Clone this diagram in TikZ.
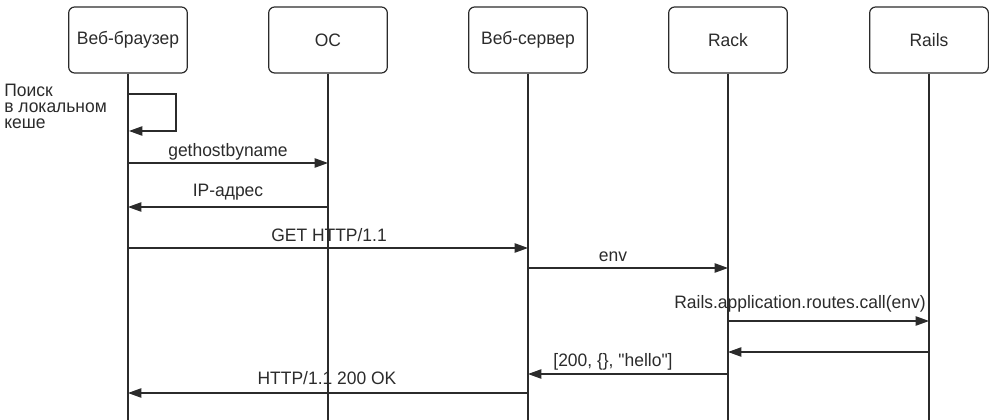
\documentclass[tikz,border=0pt]{standalone}
\usepackage{fontspec}
\setmainfont{Liberation Sans}[FakeStretch=0.97, Ligatures=TeXOff]
\usetikzlibrary{arrows.meta}
\definecolor{ink}{HTML}{2B2B2B}
\tikzset{
  actor/.style={draw=ink, rounded corners=4.5pt, minimum width=89pt, minimum height=49.5pt,
    line width=0.9pt, text=ink, font=\fontsize{13.5}{15}\selectfont},
  life/.style={draw=ink, line width=0.9pt},
  msg/.style={draw=ink, line width=0.9pt, -{Triangle[length=10pt,width=7pt]}},
  lbl/.style={anchor=base, inner sep=0pt, text=ink, font=\fontsize{13.5}{15}\selectfont}
}
\begin{document}
\begin{tikzpicture}[x=0.75pt,y=-0.75pt]
\useasboundingbox (0,0) rectangle (991,420);
\node[actor] (brw) at (128,40) {Веб-браузер};
\node[actor] (os)  at (328,40) {ОС};
\node[actor] (srv) at (528,40) {Веб-сервер};
\node[actor] (rck) at (728,40) {Rack};
\node[actor] (rls) at (929,40) {Rails};
\coordinate (bot) at (0,420);
\foreach \n in {brw,os,srv,rck,rls}
  \draw[life] (\n.south) -- (\n.south |- bot);
\coordinate (m0) at (0,94);
\coordinate (m1) at (0,163);
\coordinate (m2) at (0,207);
\coordinate (m3) at (0,248);
\coordinate (m4) at (0,268);
\coordinate (m5) at (0,321);
\coordinate (m6) at (0,352);
\coordinate (m7) at (0,374);
\coordinate (m8) at (0,393);
\node[lbl, anchor=north west, align=left, font=\fontsize{13.5}{12}\selectfont] (note) at (4,84) {Поиск\\в локальном\\кеше};
\draw[msg] (brw |- m0) -- ++(48,0) -- ++(0,37) -- ++(-47,0);
\draw[msg] (brw |- m1) -- (os |- m1);
\node[lbl] (l1) at (228,157) {gethostbyname};
\draw[msg] (os |- m2) -- (brw |- m2);
\node[lbl] (l2) at (228,197) {IP-адрес};
\draw[msg] (brw |- m3) -- (srv |- m3);
\node[lbl] (l3) at (329,241) {GET HTTP/1.1};
\draw[msg] (srv |- m4) -- (rck |- m4);
\node[lbl] (l4) at (613,262) {env};
\draw[msg] (rck |- m5) -- (rls |- m5);
\node[lbl] (l5) at (800,308) {Rails.application.routes.call(env)};
\draw[msg] (rls |- m6) -- (rck |- m6);
\draw[msg] (rck |- m7) -- (srv |- m7);
\node[lbl] (l7) at (613,366) {[200, \{\}, "hello"]};
\draw[msg] (srv |- m8) -- (brw |- m8);
\node[lbl] (l8) at (327,384) {HTTP/1.1 200 OK};
\end{tikzpicture}
\end{document}
